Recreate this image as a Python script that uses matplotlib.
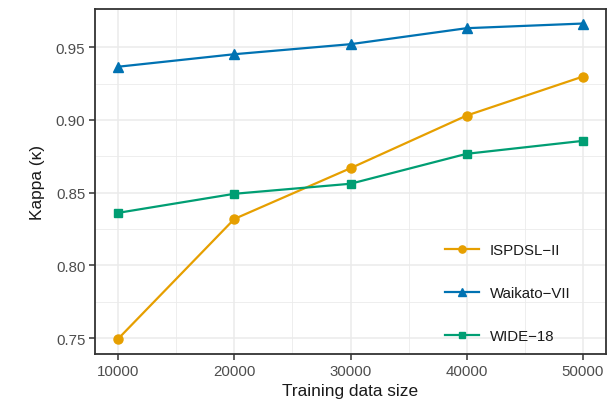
import matplotlib.pyplot as plt

plt.rcParams['font.family'] = ['Liberation Sans', 'DejaVu Sans']

sizes = [10000, 20000, 30000, 40000, 50000]
ispdsl = [0.7495, 0.8319, 0.8668, 0.903, 0.9298]
waikato = [0.9366, 0.9452, 0.9521, 0.9631, 0.9663]
wide = [0.8361, 0.8492, 0.8561, 0.8767, 0.8856]

fig = plt.figure(figsize=(6.16, 4.10), dpi=100)
ax = fig.add_axes([95 / 616, 55 / 410, 511 / 616, 345 / 410])

ax.plot(sizes, ispdsl, color='#E69F00', marker='o', markersize=6.5, lw=1.6, label='ISPDSL\u2212II')
ax.plot(sizes, waikato, color='#0072B2', marker='^', markersize=7.5, lw=1.6, label='Waikato\u2212VII')
ax.plot(sizes, wide, color='#009E73', marker='s', markersize=6.2, lw=1.6, label='WIDE\u221218')

ax.set_xlim(8000, 52000)
ax.set_ylim(0.739, 0.9763)
ax.set_xticks(sizes)
ax.set_xticks([15000, 25000, 35000, 45000], minor=True)
ax.set_yticks([0.75, 0.80, 0.85, 0.90, 0.95])
ax.set_yticklabels(['0.75', '0.80', '0.85', '0.90', '0.95'])
ax.set_yticks([0.775, 0.825, 0.875, 0.925], minor=True)
ax.grid(which='major', color='#EBEBEB', lw=1.1)
ax.grid(which='minor', color='#EBEBEB', lw=0.6)
ax.set_axisbelow(True)
ax.tick_params(which='major', color='#333333', length=4, width=1.1, labelsize=10.8,
               labelcolor='#4D4D4D', pad=3)
ax.tick_params(which='minor', length=0)
for s in ax.spines.values():
    s.set_color('#333333')
    s.set_linewidth(1.3)

ax.set_xlabel('Training data size', fontsize=12.4, color='#1A1A1A', labelpad=4)
ax.set_ylabel('Kappa (\u03ba)', fontsize=12.4, color='#1A1A1A', labelpad=8)

leg = ax.legend(loc='upper left', bbox_to_anchor=(0.684, 0.322), frameon=False,
                fontsize=10.8, labelspacing=1.93, handlelength=2.33,
                handletextpad=0.67, borderpad=0, borderaxespad=0, markerscale=0.8)
for t in leg.get_texts():
    t.set_color('#1A1A1A')

fig.savefig('out.png', dpi=100)
